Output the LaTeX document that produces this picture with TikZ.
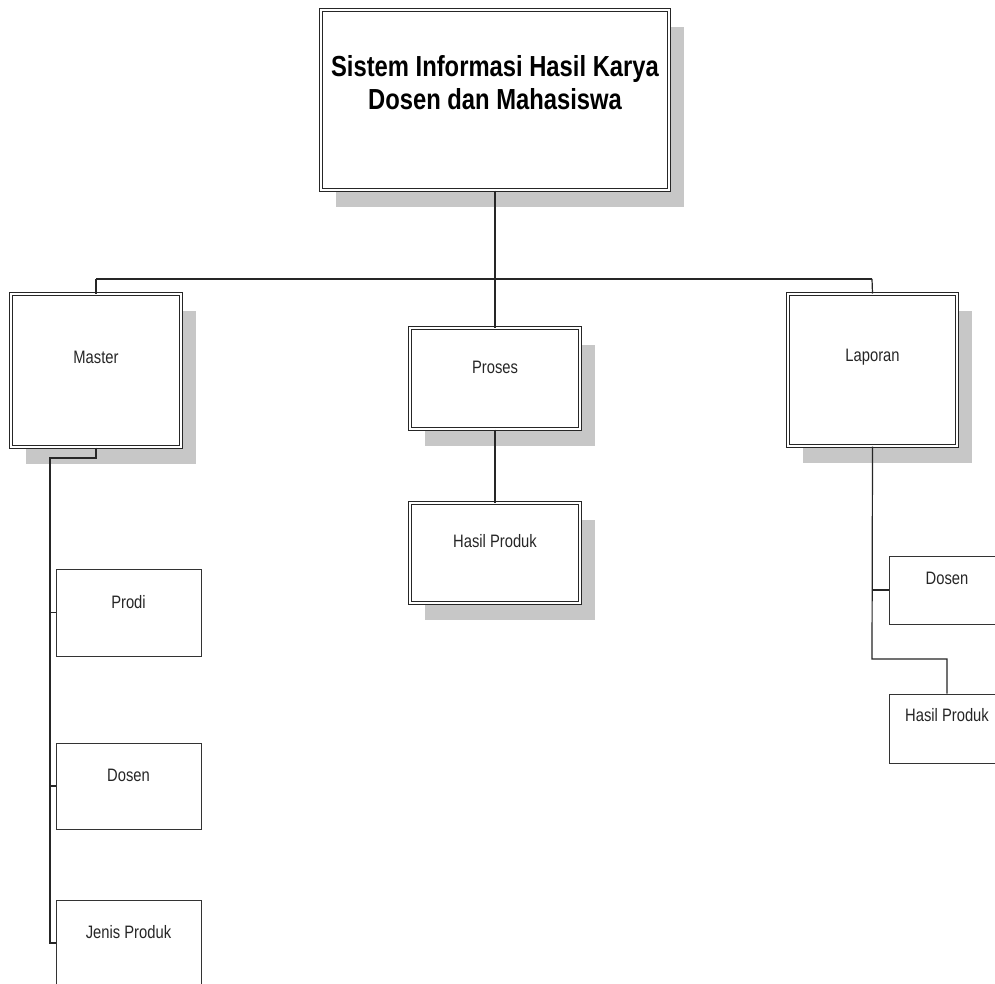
\documentclass[tikz,border=0pt]{standalone}
\usepackage{fontspec}
\newfontfamily\diafont[FakeStretch=0.82]{Liberation Sans}
\usetikzlibrary{shadows}
\tikzset{
  dbox/.style={draw=black!85, double=white, double distance=2pt, line width=1pt, fill=white, inner sep=0pt,
    drop shadow={shadow xshift=15pt, shadow yshift=-17pt, fill=black!22, opacity=1}},
  sbox/.style={draw=black!80, line width=1pt, fill=white, inner sep=0pt},
  lbl/.style={font=\diafont\fontsize{18}{21}\selectfont, text=black!85, inner sep=0pt},
  ttl/.style={font=\diafont\bfseries\fontsize{29}{33}\selectfont, text=black, align=center, inner sep=0pt},
  conn/.style={draw=black!85, line width=1.2pt},
}
\begin{document}
\begin{tikzpicture}[x=1pt, y=-1pt]
\useasboundingbox (0,0) rectangle (995,983);
\clip (0,0) rectangle (995,983);
\fill[white] (0,0) rectangle (995,983);
% main boxes
\node[dbox, minimum width=348pt, minimum height=180pt,
  label={[ttl, yshift=17.5pt]center:Sistem Informasi Hasil Karya\\Dosen dan Mahasiswa}] (top) at (495,100) {};
\node[dbox, minimum width=170pt, minimum height=153pt, label={[lbl, yshift=13.5pt]center:Master}] (master) at (96,370.5) {};
\node[dbox, minimum width=170pt, minimum height=101pt, label={[lbl, yshift=11.5pt]center:Proses}] (proses) at (495,378.5) {};
\node[dbox, minimum width=170pt, minimum height=100pt, label={[lbl, yshift=12pt]center:Hasil Produk}] (hasil) at (495,553) {};
\node[dbox, minimum width=169pt, minimum height=152pt, label={[lbl, yshift=13pt]center:Laporan}] (laporan) at (872.5,370) {};
% simple boxes
\node[sbox, minimum width=145pt, minimum height=87pt, label={[lbl, yshift=10pt]center:Prodi}] (prodi) at (128.5,612.5) {};
\node[sbox, minimum width=145pt, minimum height=86pt, label={[lbl, yshift=11pt]center:Dosen}] (dosenL) at (128.5,786) {};
\node[sbox, minimum width=145pt, minimum height=86pt, label={[lbl, yshift=11pt]center:Jenis Produk}] (jenis) at (128.5,943) {};
\node[sbox, minimum width=116pt, minimum height=68pt, label={[lbl, yshift=12pt]center:Dosen}] (dosenR) at (947,590) {};
\node[sbox, minimum width=116pt, minimum height=69pt, label={[lbl, yshift=13.5pt]center:Hasil Produk}] (hasilR) at (947,728.5) {};
% connector coordinates
\coordinate (hub) at (495,279);
\coordinate (hl) at (96,279);
\coordinate (hr) at (872,279);
\coordinate (mbend) at (96,458);
\coordinate (mspine) at (50,458);
\coordinate (lbend) at (872,659);
% connectors
\draw[conn] (top.south) -- (hub);
\draw[conn] (hl) -- (hr);
\draw[conn] (hl) -- (master.north);
\draw[conn] (hub) -- (proses.north);
\draw[conn] (hr) -- (laporan.north);
\draw[conn] (proses.south) -- (hasil.north);
\draw[conn] (master.south) -- (mbend) -- (mspine) -- (mspine |- jenis.west) -- (jenis.west);
\draw[conn] (mspine |- prodi.west) -- (prodi.west);
\draw[conn] (mspine |- dosenL.west) -- (dosenL.west);
\draw[conn] (laporan.south) -- (lbend) -| (hasilR.north);
\draw[conn] (lbend |- dosenR.west) -- (dosenR.west);
\end{tikzpicture}
\end{document}
